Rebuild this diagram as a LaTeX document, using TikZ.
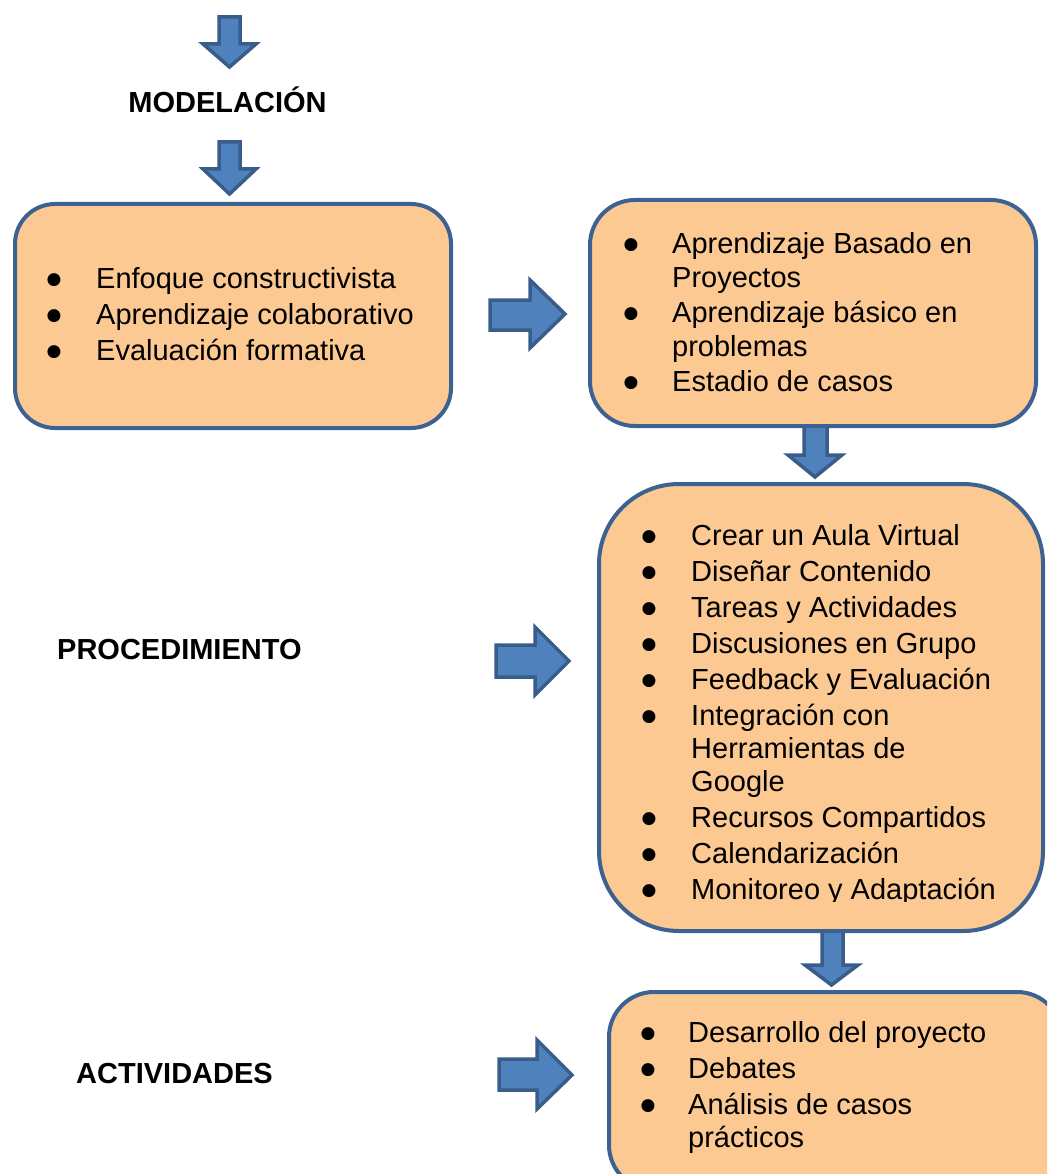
\documentclass[tikz,border=0pt]{standalone}
\usepackage{fontspec}
\setmainfont{Liberation Sans}
\newfontfamily\dejavu{DejaVu Sans}
\definecolor{boxfill}{HTML}{FCC993}
\definecolor{boxline}{HTML}{3C6291}
\definecolor{arrfill}{HTML}{4F81BD}
\definecolor{arrline}{HTML}{385D8A}
\newlength{\itemdx}
\newcommand{\mylist}[2]{\parbox[t]{520pt}{\fontsize{29}{33}\selectfont\setlength{\itemdx}{#1}\setlength{\parindent}{0pt}\setlength{\parskip}{3pt}\raggedright #2}}
\newcommand{\bitem}[1]{\par\hangindent=\itemdx\hangafter=1\makebox[\itemdx][l]{\hspace*{-1.5pt}\raisebox{4pt}{\dejavu\fontsize{17}{17}\selectfont ●}}#1}
\begin{document}
\begin{tikzpicture}[x=1pt,y=-1pt,
  box/.style={draw=boxline, line width=4pt, fill=boxfill, inner sep=0pt},
  blockarrow/.style={draw=arrline, fill=arrfill, line width=3.5pt, line join=miter},
  lbl/.style={font=\fontsize{29}{33}\selectfont\bfseries, inner sep=0pt},
  lst/.style={anchor=base west, inner sep=0pt}]
\useasboundingbox (0,0) rectangle (1047,1174);
\clip (0,0) rectangle (1047,1174);

% block arrows
\draw[blockarrow] (219,17) -- (240,17) -- (240,44) -- (256,44) -- (229.5,67) -- (203,44) -- (219,44) -- cycle;
\draw[blockarrow] (219,142) -- (240,142) -- (240,169) -- (256,169) -- (229.5,194) -- (203,169) -- (219,169) -- cycle;
\draw[blockarrow] (804,426) -- (827,426) -- (827,455) -- (842,455) -- (815,477) -- (788,455) -- (804,455) -- cycle;
\draw[blockarrow] (822,930) -- (843,930) -- (843,965) -- (858,965) -- (831.5,985) -- (805,965) -- (822,965) -- cycle;
\draw[blockarrow] (490,300) -- (530,300) -- (530,280) -- (565,314) -- (530,348) -- (530,330) -- (490,330) -- cycle;
\draw[blockarrow] (496,645) -- (535,645) -- (535,627) -- (569,661) -- (535,695) -- (535,677) -- (496,677) -- cycle;
\draw[blockarrow] (499,1059) -- (537,1059) -- (537,1040) -- (572,1075) -- (537,1109) -- (537,1090) -- (499,1090) -- cycle;

% boxes
\node[box, rounded corners=40pt, minimum width=436pt, minimum height=224pt] (b1) at (233,316) {};
\node[box, rounded corners=45pt, minimum width=446pt, minimum height=226pt] (b2) at (813,313) {};
\node[box, rounded corners=80pt, minimum width=444pt, minimum height=447pt] (b3) at (821,707.5) {};
\node[box, rounded corners=45pt, minimum width=453pt, minimum height=198pt] (b4) at (835.5,1091) {};

% labels
\node[lbl, anchor=base] (modl) at (227.5,113) {MODELACIÓN};
\node[lbl, anchor=base west] (proc) at (57,659) {PROCEDIMIENTO};
\node[lbl, anchor=base west] (acti) at (76,1083) {ACTIVIDADES};

% lists
\node[lst] (t1) at (48,288) {\mylist{48pt}{%
  \bitem{Enfoque constructivista}
  \bitem{Aprendizaje colaborativo}
  \bitem{Evaluación formativa}}};
\node[lst] (t2) at (625,254) {\mylist{47pt}{%
  \bitem{Aprendizaje Basado en\newline Proyectos}
  \bitem{Aprendizaje básico en\newline problemas}
  \bitem{Estadio de casos}}};
\begin{scope}
\clip (599,484) rectangle (1043,901);
\node[lst] (t3) at (643,545) {\mylist{48pt}{%
  \bitem{Crear un Aula Virtual}
  \bitem{Diseñar Contenido}
  \bitem{Tareas y Actividades}
  \bitem{Discusiones en Grupo}
  \bitem{Feedback y Evaluación}
  \bitem{Integración con\newline Herramientas de\newline Google}
  \bitem{Recursos Compartidos}
  \bitem{Calendarización}
  \bitem{Monitoreo y Adaptación}}};
\end{scope}
\node[lst] (t4) at (642,1042) {\mylist{46pt}{%
  \bitem{Desarrollo del proyecto}
  \bitem{Debates}
  \bitem{Análisis de casos\newline prácticos}}};
\end{tikzpicture}
\end{document}
